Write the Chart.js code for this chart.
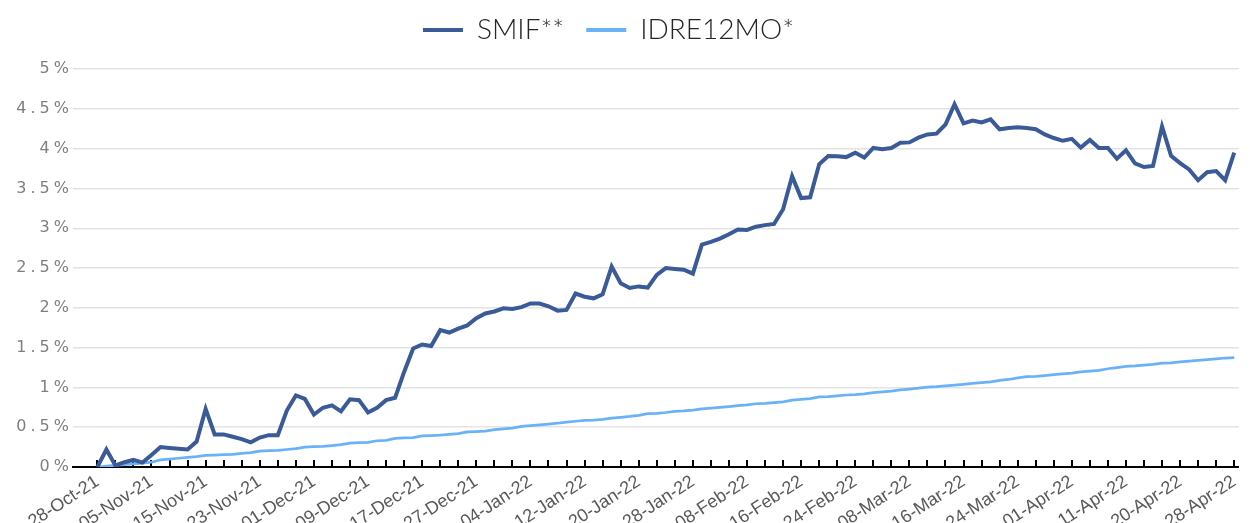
<!DOCTYPE html>
<html>
<head>
<meta charset="utf-8">
<script src="https://cdn.jsdelivr.net/npm/chart.js@4"></script>
<style>
  html, body { margin: 0; padding: 0; background: #fff; overflow: hidden; }
  #wrap { width: 1250px; height: 523px; position: relative; }
</style>
</head>
<body>
<div id="wrap"><canvas id="chart"></canvas></div>
<script>
// === データ ===
// 目盛ラベル（6営業日ごと）
const tickLabels = [
    '28-Oct-21', '05-Nov-21', '15-Nov-21', '23-Nov-21', '01-Dec-21', '09-Dec-21',
    '17-Dec-21', '27-Dec-21', '04-Jan-22', '12-Jan-22', '20-Jan-22', '28-Jan-22',
    '08-Feb-22', '16-Feb-22', '24-Feb-22', '08-Mar-22', '16-Mar-22', '24-Mar-22',
    '01-Apr-22', '11-Apr-22', '20-Apr-22', '28-Apr-22'
];
const labelStep = 6;

// SMIF** (%)
const smif = [
    0.00, 0.22, 0.02, 0.06, 0.09, 0.055, 0.15, 0.25, 0.24, 0.23,
    0.22, 0.32, 0.73, 0.41, 0.41, 0.38, 0.35, 0.31, 0.37, 0.40,
    0.40, 0.71, 0.90, 0.855, 0.66, 0.745, 0.775, 0.70, 0.85, 0.84,
    0.685, 0.745, 0.84, 0.87, 1.195, 1.49, 1.54, 1.52, 1.72, 1.69,
    1.74, 1.78, 1.87, 1.93, 1.955, 1.995, 1.985, 2.01, 2.055, 2.055,
    2.02, 1.965, 1.975, 2.18, 2.14, 2.12, 2.17, 2.52, 2.31, 2.25,
    2.27, 2.255, 2.415, 2.50, 2.49, 2.48, 2.43, 2.795, 2.83, 2.87,
    2.925, 2.985, 2.98, 3.02, 3.04, 3.055, 3.24, 3.655, 3.38, 3.39,
    3.805, 3.91, 3.905, 3.895, 3.95, 3.89, 4.01, 3.995, 4.01, 4.075,
    4.08, 4.14, 4.18, 4.19, 4.305, 4.56, 4.32, 4.355, 4.33, 4.37,
    4.245, 4.26, 4.27, 4.26, 4.245, 4.18, 4.135, 4.10, 4.125, 4.015,
    4.11, 4.01, 4.01, 3.875, 3.98, 3.815, 3.77, 3.785, 4.28, 3.91,
    3.82, 3.74, 3.605, 3.705, 3.72, 3.605, 3.95
];

// IDRE12MO* (%)
const idre = [
    0.00, 0.01, 0.02, 0.03, 0.04, 0.05, 0.06, 0.09, 0.10, 0.11,
    0.12, 0.13, 0.145, 0.15, 0.155, 0.16, 0.17, 0.18, 0.20, 0.205,
    0.21, 0.22, 0.23, 0.25, 0.255, 0.26, 0.27, 0.28, 0.30, 0.305,
    0.31, 0.33, 0.335, 0.36, 0.365, 0.37, 0.39, 0.395, 0.40, 0.41,
    0.42, 0.44, 0.445, 0.45, 0.47, 0.48, 0.49, 0.51, 0.52, 0.53,
    0.54, 0.55, 0.565, 0.575, 0.585, 0.59, 0.60, 0.615, 0.625, 0.635,
    0.65, 0.67, 0.675, 0.685, 0.70, 0.705, 0.715, 0.73, 0.74, 0.75,
    0.76, 0.77, 0.78, 0.795, 0.80, 0.81, 0.82, 0.84, 0.85, 0.86,
    0.88, 0.885, 0.895, 0.905, 0.91, 0.92, 0.935, 0.945, 0.955, 0.97,
    0.98, 0.99, 1.005, 1.01, 1.02, 1.03, 1.04, 1.05, 1.06, 1.07,
    1.09, 1.10, 1.12, 1.135, 1.14, 1.15, 1.16, 1.17, 1.18, 1.195,
    1.205, 1.215, 1.235, 1.25, 1.265, 1.27, 1.28, 1.29, 1.305, 1.31,
    1.32, 1.33, 1.34, 1.35, 1.36, 1.37, 1.375
];

const SMIF_COLOR = '#3a5a98';
const IDRE_COLOR = '#6ab2f7';

// y軸ラベルの字間を広げる
const spacedYLabels = {
    id: 'spacedYLabels',
    beforeDraw(chart) {
        const s = chart.scales.y;
        if (s._spaced) return;
        const orig = s.drawLabels.bind(s);
        s.drawLabels = function (area) {
            const ctx = this.ctx;
            ctx.save();
            ctx.letterSpacing = '4px';
            orig(area);
            ctx.restore();
        };
        s._spaced = true;
    }
};

// x軸の内向き目盛線
const innerTicks = {
    id: 'innerTicks',
    beforeDatasetsDraw(chart) {
        const sx = chart.scales.x;
        const ctx = chart.ctx;
        const bottom = chart.chartArea.bottom;
        ctx.save();
        ctx.strokeStyle = '#000000';
        ctx.lineWidth = 2;
        ctx.beginPath();
        sx.ticks.forEach(t => {
            const px = Math.round(sx.getPixelForValue(t.value));
            ctx.moveTo(px, bottom + 1);
            ctx.lineTo(px, bottom - 7);
        });
        ctx.stroke();
        ctx.restore();
    }
};

const toPoints = arr => arr.map((v, i) => ({ x: i, y: v }));

new Chart(document.getElementById('chart'), {
    type: 'line',
    data: {
        datasets: [
            {
                label: 'SMIF**',
                data: toPoints(smif),
                borderColor: SMIF_COLOR,
                backgroundColor: SMIF_COLOR,
                borderWidth: 4,
                pointRadius: 0,
                tension: 0,
            },
            {
                label: 'IDRE12MO*',
                data: toPoints(idre),
                borderColor: IDRE_COLOR,
                backgroundColor: IDRE_COLOR,
                borderWidth: 2.75,
                pointRadius: 0,
                tension: 0,
            },
        ],
    },
    options: {
        responsive: true,
        maintainAspectRatio: false,
        animation: false,
        layout: { padding: { left: -28, right: 5, top: -6, bottom: 0 } },
        plugins: {
            legend: {
                position: 'top',
                labels: {
                    font: { family: 'Lato', size: 28, weight: '300' },
                    color: '#262626',
                    usePointStyle: true,
                    pointStyle: 'line',
                    pointStyleWidth: 40,
                    boxWidth: 40,
                    boxHeight: 4,
                    padding: 22,
                    generateLabels(chart) {
                        const items = Chart.defaults.plugins.legend.labels.generateLabels(chart);
                        items.forEach(it => { it.lineWidth = 4; it.pointStyle = 'line'; });
                        return items;
                    },
                },
            },
            // 凡例とグラフ領域の間の余白
            title: {
                display: true,
                text: '',
                weight: 500,
                font: { size: 1 },
                padding: { top: 7, bottom: 7 },
            },
            tooltip: { enabled: false },
        },
        scales: {
            x: {
                type: 'linear',
                min: -2.7,
                max: 126.5,
                afterBuildTicks: axis => {
                    const t = [];
                    for (let i = 0; i < smif.length; i += 2) t.push({ value: i });
                    axis.ticks = t;
                },
                afterFit: scale => { scale.height = 56; },
                border: { display: true, color: '#000', width: 2 },
                grid: { drawOnChartArea: false, drawTicks: false },
                ticks: {
                    autoSkip: false,
                    minRotation: 33,
                    maxRotation: 33,
                    padding: 4,
                    color: '#595959',
                    font: { family: 'Liberation Sans', size: 18 },
                    callback: v => (v % labelStep === 0 ? tickLabels[v / labelStep] : ''),
                },
            },
            y: {
                min: 0,
                max: 5,
                afterFit: scale => { scale.width = 101; },
                border: { display: false },
                grid: { color: '#e3e3e3', lineWidth: 1.5, drawTicks: false },
                ticks: {
                    stepSize: 0.5,
                    padding: 0,
                    color: '#7f7f7f',
                    font: { family: 'DejaVu Sans', size: 16 },
                    callback: v => v + '%',
                },
            },
        },
    },
    plugins: [spacedYLabels, innerTicks],
});
</script>
</body>
</html>
